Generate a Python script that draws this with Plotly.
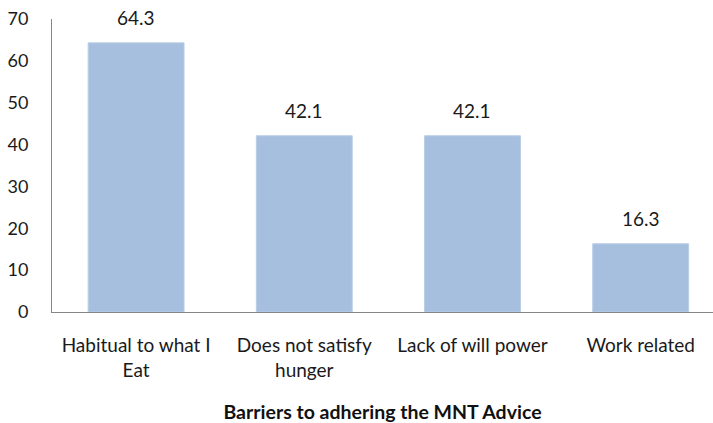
import plotly.graph_objects as go

categories = ["Habitual to what I<br>Eat", "Does not satisfy<br>hunger", "Lack of will power", "Work related"]
values = [64.3, 42.1, 42.1, 16.3]
value_labels = ["64.3", "42.1", "42.1", "16.3"]
y_ticks = [0, 10, 20, 30, 40, 50, 60, 70]
x_title = "<b>Barriers to adhering the MNT Advice</b>"

FONT = "Lato"

fig = go.Figure()
fig.add_trace(go.Bar(
    x=list(range(len(categories))),
    y=values,
    width=0.57,
    marker=dict(color="#A7BFDE", line=dict(color="#B9CDE6", width=1)),
    hoverinfo="skip",
))

for i, (v, t) in enumerate(zip(values, value_labels)):
    fig.add_annotation(x=i, y=v, text=t, showarrow=False, yanchor="bottom",
                       yshift=12, font=dict(family=FONT, size=19, color="#1a1a1a"))

fig.update_layout(
    width=713, height=423,
    margin=dict(l=52, r=0, t=19, b=111),
    plot_bgcolor="white", paper_bgcolor="white",
    showlegend=False,
    font=dict(family=FONT, size=18, color="#1a1a1a"),
    xaxis=dict(
        tickmode="array",
        tickvals=list(range(len(categories))),
        ticktext=categories,
        tickfont=dict(family=FONT, size=19, color="#1a1a1a"),
        range=[-0.5, 3.43],
        showline=True, linecolor="#868686", linewidth=1,
        ticks="", showgrid=False, zeroline=False,
        ticklabelstandoff=16,
        title=dict(text=x_title, font=dict(family=FONT, size=19.5, color="#111111"), standoff=25),
    ),
    yaxis=dict(
        range=[0, 70],
        tickvals=y_ticks,
        tickfont=dict(family=FONT, size=18, color="#1a1a1a"),
        showline=True, linecolor="#868686", linewidth=1,
        ticks="", showgrid=False, zeroline=False,
        ticklabelstandoff=19,
        ticklabeloverflow="allow",
    ),
)

fig.write_html("out.html", config={"displayModeBar": False},
               post_script="document.body.style.margin='0';")
